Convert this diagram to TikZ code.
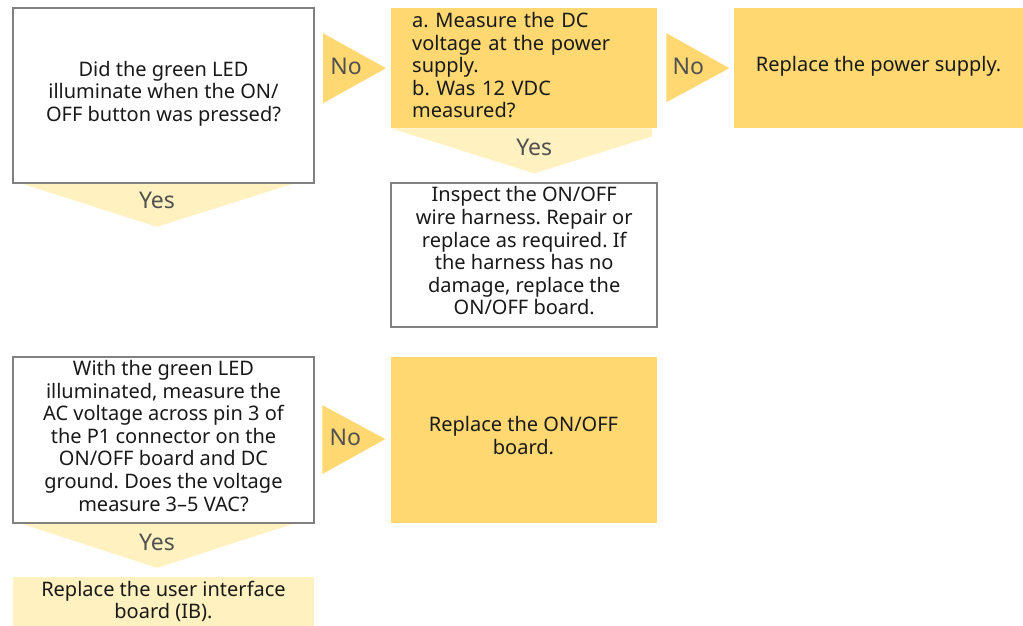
\documentclass[tikz,border=0pt]{standalone}
\usepackage{fontspec}
\setmainfont{Noto Sans}
\usetikzlibrary{positioning,calc,backgrounds}
\definecolor{StepYellow}{HTML}{FFD872}
\definecolor{PaleYellow}{HTML}{FFF1C0}
\definecolor{FrameGray}{HTML}{808080}
\definecolor{TagGray}{HTML}{505050}
\newcommand{\bodyfont}{\fontsize{20}{22.6}\selectfont}
\newcommand{\tagfont}{\fontsize{23}{26}\selectfont}
\frenchspacing

\begin{document}
\begin{tikzpicture}[x=1pt,y=-1pt,
  ask/.style={rectangle,draw=FrameGray,line width=1.6pt,fill=white,align=center,font=\bodyfont,text=black!90,inner sep=0pt,text depth=9pt},
  act/.style={rectangle,fill=StepYellow,align=center,font=\bodyfont,text=black!90,inner sep=0pt,text depth=9pt},
  noarr/.style={fill=StepYellow},
  yesarr/.style={fill=PaleYellow},
  tag/.style={font=\tagfont,text=TagGray,inner sep=0pt}
]
  \useasboundingbox (0,0) rectangle (1023,626);
  \node[ask,anchor=north west,minimum width=301pt,minimum height=175pt] (q1) at (12.2,7.2) {Did the green LED\\illuminate when the ON/\\OFF button was pressed?};
  \node[act,anchor=north west,align=left,text depth=,text width=224pt,inner xsep=21pt,minimum height=120pt] (a1) at (391,8) {a. Measure the DC\\voltage at the power\\supply.\\b. Was 12 VDC\\measured?\par\vspace*{6pt}};
  \node[act,minimum width=290pt,minimum height=120pt,right=76pt of a1] (a2) {Replace the power supply.};
  \node[ask,minimum width=266pt,minimum height=144pt,below=54pt of a1] (f1) {Inspect the ON/OFF\\wire harness. Repair or\\replace as required. If\\the harness has no\\damage, replace the\\ON/OFF board.};
  \node[ask,minimum width=301pt,minimum height=166pt,below=172.5pt of q1] (q2) {With the green LED\\illuminated, measure the\\AC voltage across pin 3 of\\the P1 connector on the\\ON/OFF board and DC\\ground. Does the voltage\\measure 3--5 VAC?};
  \node[act,minimum width=266pt,minimum height=166pt,right=75.5pt of q2] (a3) {Replace the ON/OFF\\board.};
  \node[act,fill=PaleYellow,text depth=,minimum width=301pt,minimum height=49pt,below=53pt of q2] (a4) {Replace the user interface\\board (IB).};

  \begin{scope}[on background layer]
    \fill[noarr] ($(a1.west)+(-68,-35)$) -- ++(0,70) -- ($(a1.west)+(-5,0)$) -- cycle;
    \fill[noarr] ($(a2.west)+(-67,-35)$) -- ++(0,69) -- ($(a2.west)+(-4,0)$) -- cycle;
    \fill[noarr] ($(a3.west)+(-68,-35)$) -- ++(0,69) -- ($(a3.west)+(-5,-1)$) -- cycle;
    \fill[yesarr] ($(q1.south)+(-141.5,0)$) -- ($(q1.south)+(129.5,0)$) -- ($(q1.south)+(-6.5,43)$) -- cycle;
    \fill[yesarr] ($(a1.south)+(-133,0)$) -- ($(a1.south)+(128,0)$) -- ($(a1.south)+(128,8)$) -- ($(a1.south)+(10,45)$) -- cycle;
    \fill[yesarr] ($(q2.south)+(-141.5,0)$) -- ($(q2.south)+(129.5,0)$) -- ($(q2.south)+(-6.5,44)$) -- cycle;
  \end{scope}

  \node[tag] (n1) at ($(a1.west)+(-45,-2)$) {No};
  \node[tag] (n2) at ($(a2.west)+(-45,-2)$) {No};
  \node[tag] (n3) at ($(a3.west)+(-45,-3)$) {No};
  \node[tag] (y1) at ($(q1.south)+(-6.5,17)$) {Yes};
  \node[tag] (y2) at ($(a1.south)+(10,19)$) {Yes};
  \node[tag] (y3) at ($(q2.south)+(-6.5,18)$) {Yes};
\end{tikzpicture}
\end{document}
